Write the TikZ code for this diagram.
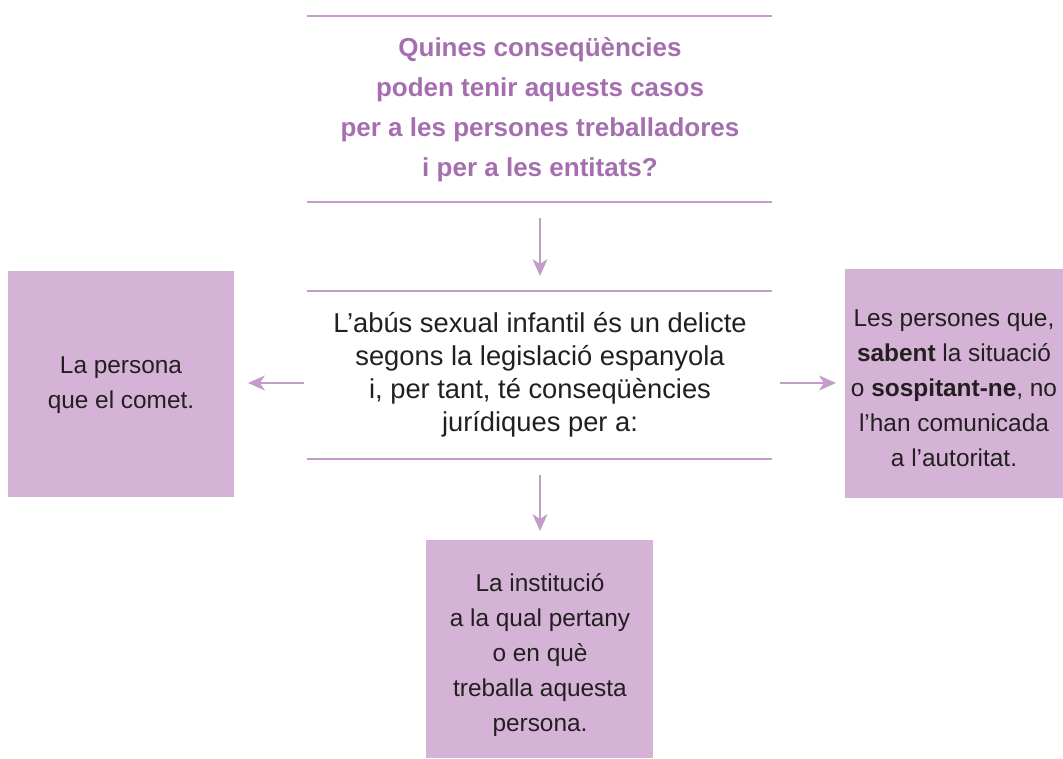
\documentclass[tikz,border=0pt]{standalone}
\usepackage{fontspec}
\setmainfont{Liberation Sans}
\usetikzlibrary{arrows.meta}
\definecolor{lineC}{HTML}{C49BCB}
\definecolor{boxC}{HTML}{D4B3D6}
\definecolor{titleC}{HTML}{A56FAF}
\definecolor{textC}{HTML}{231F20}
\tikzset{
  rule/.style={draw=lineC, line width=2.2pt},
  conn/.style={draw=lineC, line width=2.2pt, -{Stealth[length=12.5pt,width=11pt,inset=3.5pt]}},
  pbox/.style={fill=boxC, draw=none},
  btext/.style={align=center, text=textC, font=\fontsize{18.3}{26.2}\selectfont},
  mtext/.style={align=center, text=textC, font=\fontsize{20.5}{24.8}\selectfont},
  ttext/.style={align=center, text=titleC, font=\bfseries\fontsize{19.5}{30}\selectfont},
}
\begin{document}
\begin{tikzpicture}[x=0.75pt,y=-0.75pt]
\useasboundingbox (0,0) rectangle (1063,758);
% top question
\draw[rule] (307,16) -- (772,16);
\draw[rule] (307,202) -- (772,202);
\node[ttext] (q) at (540,110) {Quines conseqüències\\poden tenir aquests casos\\per a les persones treballadores\\i per a les entitats?};
% middle
\draw[rule] (307,291) -- (772,291);
\draw[rule] (307,459) -- (772,459);
\node[mtext] (m) at (540,375) {L’abús sexual infantil és un delicte\\segons la legislació espanyola\\i, per tant, té conseqüències\\jurídiques per a:};
\coordinate (qb) at (540,218);
\coordinate (mt) at (540,276);
\draw[conn] (qb) -- (mt);
% left box
\fill[pbox] (8,271) rectangle (234,497);
\node[btext] (l) at (121,385) {La persona\\que el comet.};
\coordinate (la) at (304,383);
\coordinate (lb) at (248,383);
\draw[conn] (la) -- (lb);
% right box
\fill[pbox] (845,269) rectangle (1063,498);
\node[btext] (r) at (954,388) {Les persones que,\\\textbf{sabent} la situació\\o \textbf{sospitant-ne}, no\\l’han comunicada\\a l’autoritat.};
\coordinate (ra) at (780,383);
\coordinate (rb) at (836,383);
\draw[conn] (ra) -- (rb);
% bottom box
\fill[pbox] (426,540) rectangle (653,758);
\node[btext] (b) at (540,655) {La institució\\a la qual pertany\\o en què\\treballa aquesta\\persona.};
\coordinate (ba) at (540,475);
\coordinate (bb) at (540,531);
\draw[conn] (ba) -- (bb);
\end{tikzpicture}
\end{document}
